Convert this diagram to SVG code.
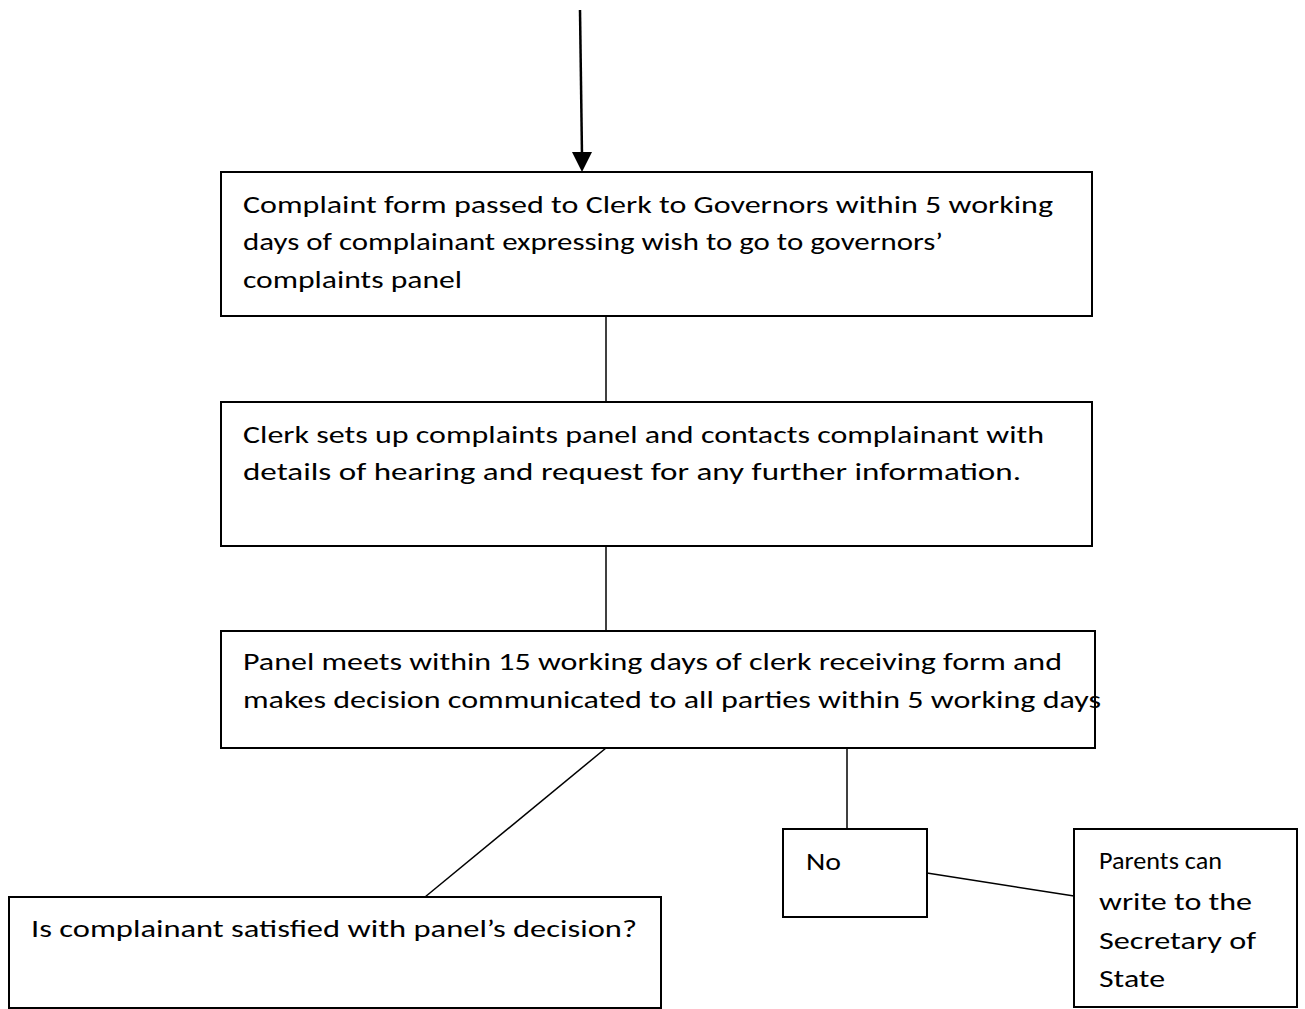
<svg xmlns="http://www.w3.org/2000/svg" width="1305" height="1009" viewBox="0 0 1305 1009">
<style>
.box{fill:#fff;stroke:#000;stroke-width:2}
.ln{stroke:#000;stroke-width:1.5;fill:none}
.arr{stroke:#000;stroke-width:2.5;fill:none}
text{font-family:"Carlito","Open Sans","Liberation Sans",sans-serif;font-size:25px;fill:#000}
</style>
<rect width="1305" height="1009" fill="#fff"/>
<g id="connectors">
<path class="arr" d="M580,10 L582,156"/>
<polygon points="572,152 592,152 582,172" fill="#000"/>
<line class="ln" x1="606" y1="316" x2="606" y2="402"/>
<line class="ln" x1="606" y1="546" x2="606" y2="631"/>
<line class="ln" x1="606" y1="748" x2="425" y2="897"/>
<line class="ln" x1="847" y1="748" x2="847" y2="829"/>
<line class="ln" x1="927" y1="873" x2="1074" y2="896"/>
</g>
<g id="node1">
<rect class="box" x="221" y="172" width="871" height="144"/>
<text x="243" y="213" textLength="810" lengthAdjust="spacingAndGlyphs">Complaint form passed to Clerk to Governors within 5 working</text>
<text x="243" y="250" textLength="700" lengthAdjust="spacingAndGlyphs">days of complainant expressing wish to go to governors’</text>
<text x="243" y="288" textLength="219" lengthAdjust="spacingAndGlyphs">complaints panel</text>
</g>
<g id="node2">
<rect class="box" x="221" y="402" width="871" height="144"/>
<text x="243" y="443" textLength="801" lengthAdjust="spacingAndGlyphs">Clerk sets up complaints panel and contacts complainant with</text>
<text x="243" y="480" textLength="778" lengthAdjust="spacingAndGlyphs">details of hearing and request for any further information.</text>
</g>
<g id="node3">
<rect class="box" x="221" y="631" width="874" height="117"/>
<text x="243" y="670" textLength="819" lengthAdjust="spacingAndGlyphs">Panel meets within 15 working days of clerk receiving form and</text>
<text x="243" y="708" textLength="858" lengthAdjust="spacingAndGlyphs">makes decision communicated to all parties within 5 working days</text>
</g>
<g id="node4">
<rect class="box" x="9" y="897" width="652" height="111"/>
<text x="31" y="937" textLength="606" lengthAdjust="spacingAndGlyphs">Is complainant satisfied with panel’s decision?</text>
</g>
<g id="node5">
<rect class="box" x="783" y="829" width="144" height="88"/>
<text x="806" y="870" textLength="35" lengthAdjust="spacingAndGlyphs">No</text>
</g>
<g id="node6">
<rect class="box" x="1074" y="829" width="223" height="178"/>
<text x="1099" y="869" textLength="123" lengthAdjust="spacingAndGlyphs">Parents can</text>
<text x="1099" y="910" textLength="153" lengthAdjust="spacingAndGlyphs">write to the</text>
<text x="1099" y="949" textLength="157" lengthAdjust="spacingAndGlyphs">Secretary of</text>
<text x="1099" y="987" textLength="66" lengthAdjust="spacingAndGlyphs">State</text>
</g>
</svg>
